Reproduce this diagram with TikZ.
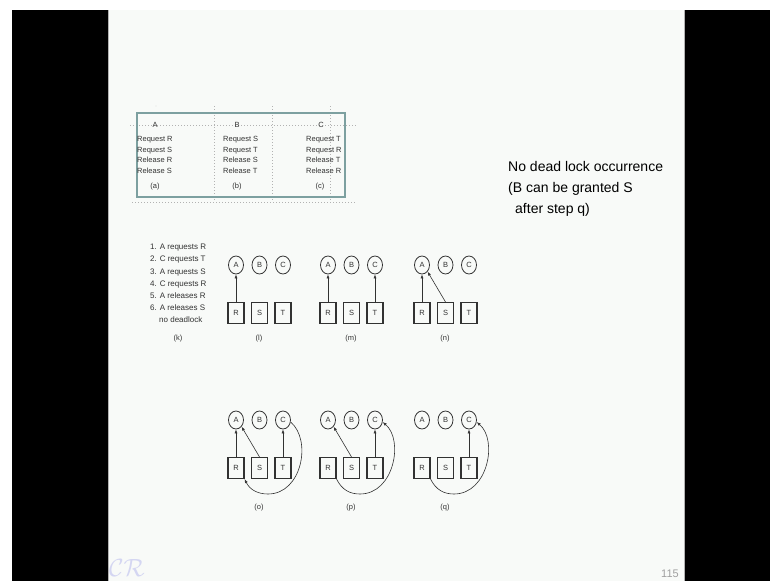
\documentclass[tikz,border=0pt]{standalone}
\usepackage{fontspec}
\setmainfont{Liberation Sans}
\usetikzlibrary{arrows.meta,shapes.geometric}
\definecolor{slidebg}{RGB}{248,250,248}
\definecolor{boxteal}{RGB}{125,160,160}
\definecolor{inkgray}{RGB}{50,50,50}
\definecolor{logoblue}{RGB}{212,214,242}
\tikzset{
  proc/.style={ellipse, draw=inkgray, line width=0.8pt, minimum width=15pt, minimum height=18pt, inner sep=0pt, text=inkgray, font=\fontsize{7.5}{8}\selectfont},
  res/.style={rectangle, draw=inkgray, line width=1.1pt, minimum width=16pt, minimum height=21pt, inner sep=0pt, text=inkgray, font=\fontsize{7.5}{8}\selectfont},
  edge/.style={-{Latex[length=4pt,width=3pt]}, inkgray, line width=0.6pt},
  small/.style={inner sep=0pt, text=inkgray, font=\fontsize{7.5}{10.5}\selectfont},
  listtxt/.style={inner sep=0pt, text=inkgray, font=\fontsize{8}{12.2}\selectfont},
  dotgrid/.style={gray!60, line width=0.6pt, dash pattern=on 0.7pt off 2.3pt}
}
\begin{document}
\begin{tikzpicture}[x=1pt, y=-1pt]
\useasboundingbox (0,0) rectangle (770,581);
% Screen, black bars and slide
\fill[white] (0,0) rectangle (770,581);
\fill[black] (12,10) rectangle (108,581);
\fill[black] (684,10) rectangle (770,581);
\fill[slidebg] (108,10) rectangle (684,581);
\draw[gray!60, line width=0.8pt] (108,10) -- (108,581);
\draw[gray!60, line width=0.8pt] (684,10) -- (684,581);
% Dotted guides of the three programs
\draw[dotgrid] (130,125) -- (356,125);
\draw[dotgrid] (132,202) -- (356,202);
\foreach \gx in {214, 272, 330}
  \draw[dotgrid] (\gx,106) -- (\gx,200);
\fill[gray!60] (156,106) circle (0.4pt);
% Frame round the programs
\draw[boxteal, line width=1.8pt] (137,113) rectangle (345,197);
% Programs (a), (b), (c)
\node[small] (headA) at (155,125) {A};
\node[small] (headB) at (237,125) {B};
\node[small] (headC) at (321,125) {C};
\node[small, align=left, anchor=west] (progA) at (137,155) {Request R\\Request S\\Release R\\Release S};
\node[small, align=left, anchor=west] (progB) at (223,155) {Request S\\Request T\\Release S\\Release T};
\node[small, align=left, anchor=west] (progC) at (306,155) {Request T\\Request R\\Release T\\Release R};
\node[small] (capa) at (155,187) {(a)};
\node[small] (capb) at (237,187) {(b)};
\node[small] (capc) at (320,187) {(c)};
% Order of requests (k)
\node[listtxt, align=left, anchor=west] (steps) at (150,283.5) {1. A requests R\\2. C requests T\\3. A requests S\\4. C requests R\\5. A releases R\\6. A releases S\\\hspace{9pt}no deadlock};
\node[small] (capk) at (178,339) {(k)};
% Resource graphs (l) to (q)
\foreach \g/\gx/\gy/\cy in {l/236/265/339, m/328/265/339, n/422/265/339, o/236/420/508, p/328/420/508, q/422/420/508} {
  \node[proc] (\g-A) at (\gx,\gy) {A};
  \node[proc] (\g-B) at (\gx+23.5,\gy) {B};
  \node[proc] (\g-C) at (\gx+47,\gy) {C};
  \node[res] (\g-R) at (\gx,\gy+48) {R};
  \node[res] (\g-S) at (\gx+23.5,\gy+48) {S};
  \node[res] (\g-T) at (\gx+47,\gy+48) {T};
  \node[small] (\g-cap) at (\gx+23,\cy) {(\g)};
}
% Edges of the top row
\draw[edge] (l-R) -- (l-A);
\draw[edge] (m-R) -- (m-A);
\draw[edge] (m-T) -- (m-C);
\draw[edge] (n-R) -- (n-A);
\draw[edge] (n-S.north) -- (n-A.-50);
% Edges of the bottom row
\draw[edge] (o-R) -- (o-A);
\draw[edge] (o-S.north) -- (o-A.-50);
\draw[edge] (o-T) -- (o-C);
\draw[edge] (o-C.-15) .. controls (312,440) and (302,494) .. (268,494) .. controls (258,494) and (250,490) .. (o-R.south east);
\draw[edge] (p-S.north) -- (p-A.-50);
\draw[edge] (p-T) -- (p-C);
\draw[edge] (p-R.south east) .. controls (342,490) and (350,494) .. (360,494) .. controls (394,494) and (404,440) .. (p-C.-15);
\draw[edge] (q-T) -- (q-C);
\draw[edge] (q-R.south east) .. controls (436,490) and (444,494) .. (454,494) .. controls (488,494) and (498,440) .. (q-C.-15);
% Remark on the right
\node[inner sep=0pt, anchor=west, align=left, font=\fontsize{14}{21.3}\selectfont] (remark) at (508,189) {No dead lock occurrence\\(B can be granted S\\\hspace{7pt}after step q)};
% Logo and page number
\node[inner sep=0pt, text=logoblue, font=\fontsize{28}{28}\selectfont] (logo) at (127,568) {$\mathcal{CR}$};
\node[inner sep=0pt, text=gray!75, font=\fontsize{11}{12}\selectfont] (pageno) at (670,574) {115};
\end{tikzpicture}
\end{document}
